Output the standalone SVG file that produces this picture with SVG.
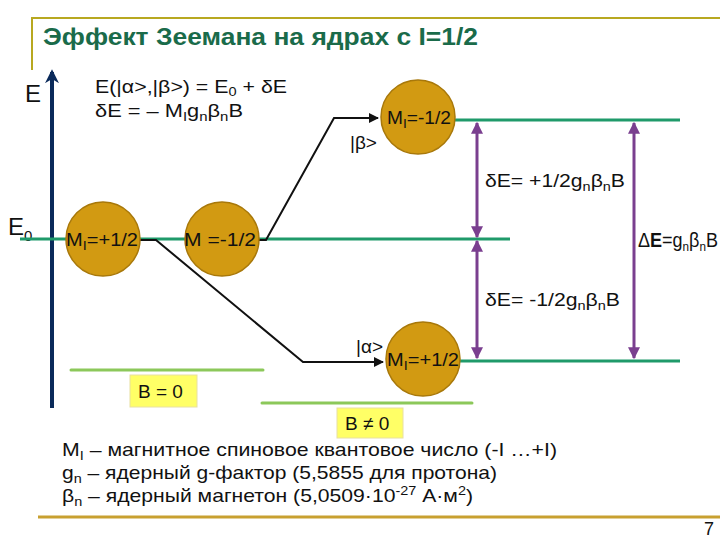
<svg xmlns="http://www.w3.org/2000/svg" width="720" height="540" viewBox="0 0 720 540">
<defs>
<style>
text{font-family:"Liberation Sans",Arial,sans-serif;fill:#111}
.t{font-size:19px}
.c{font-size:18px}
.s{font-size:13px}
.circ{fill:#d29a12;stroke:#a8780a;stroke-width:1.5}
.lvl{stroke:#1f9a6a;stroke-width:3}
.pur{stroke:#7a3f8f;stroke-width:3;fill:none}
.blk{stroke:#111;stroke-width:2;fill:none}
.bl{stroke:#8cc85a;stroke-width:3;stroke-linecap:round}
.yb{fill:#ffff66;stroke:#e8e0a0;stroke-width:1}
</style>
<marker id="ab" viewBox="0 0 10 10" refX="9" refY="5" markerWidth="5" markerHeight="5" orient="auto-start-reverse"><path d="M0,0L10,5L0,10z" fill="#111"/></marker>
<marker id="ap" viewBox="0 0 10 10" refX="9" refY="5" markerWidth="4" markerHeight="4" orient="auto-start-reverse"><path d="M0,0L10,5L0,10z" fill="#7a3f8f"/></marker>
<marker id="an" viewBox="0 0 10 10" refX="8" refY="5" markerWidth="3.5" markerHeight="3.5" orient="auto"><path d="M0,0L10,5L0,10L3,5z" fill="#0a2a5a"/></marker>
</defs>
<rect width="720" height="540" fill="#fff"/>
<g id="frame">
<path d="M32,70V18H720" fill="none" stroke="#b8a820" stroke-width="2"/>
<path d="M38,517H720" stroke="#c8a030" stroke-width="3"/>
<text x="43" y="45" textLength="435" lengthAdjust="spacingAndGlyphs" style="font-size:23px;font-weight:bold;fill:#1a6b4a">Эффект Зеемана на ядрах с I=1/2</text>
</g>
<g id="axis">
<line x1="52" y1="408" x2="52" y2="72" stroke="#0a2a5a" stroke-width="4" marker-end="url(#an)"/>
<text x="25" y="102" style="font-size:24px">E</text>
<text x="8" y="235" style="font-size:24px">E<tspan dy="6" style="font-size:15px">0</tspan></text>
</g>
<g id="formula">
<text class="t" x="95" y="93" textLength="192" lengthAdjust="spacingAndGlyphs">E(|α&gt;,|β&gt;) = E<tspan dy="3" class="s">0</tspan><tspan dy="-3"> + δE</tspan></text>
<text class="t" x="95" y="117" textLength="148" lengthAdjust="spacingAndGlyphs">δE = – M<tspan dy="4" class="s">I</tspan><tspan dy="-4">g</tspan><tspan dy="4" class="s">n</tspan><tspan dy="-4">β</tspan><tspan dy="4" class="s">n</tspan><tspan dy="-4">B</tspan></text>
</g>
<g id="levels">
<line class="lvl" x1="20" y1="239" x2="510" y2="239"/>
<line class="lvl" x1="455" y1="120" x2="680" y2="120"/>
<line class="lvl" x1="455" y1="361" x2="680" y2="361"/>
</g>
<g id="connectors">
<path class="blk" d="M140,240H156L303,362H383" marker-end="url(#ab)"/>
<path class="blk" d="M258,240H266L334,118H378" marker-end="url(#ab)"/>
<line class="pur" x1="477" y1="237" x2="477" y2="123" marker-start="url(#ap)" marker-end="url(#ap)"/>
<line class="pur" x1="477" y1="241" x2="477" y2="358" marker-start="url(#ap)" marker-end="url(#ap)"/>
<line class="pur" x1="634" y1="123" x2="634" y2="358" marker-start="url(#ap)" marker-end="url(#ap)"/>
<line class="bl" x1="71" y1="370" x2="263" y2="370"/>
<line class="bl" x1="262" y1="403" x2="472" y2="403"/>
</g>
<g id="n1"><circle class="circ" cx="103" cy="239" r="37"/><text class="c" x="66" y="246" textLength="72" lengthAdjust="spacingAndGlyphs">M<tspan dy="4" class="s">I</tspan><tspan dy="-4">=+1/2</tspan></text></g>
<g id="n2"><circle class="circ" cx="222" cy="239" r="37"/><text class="c" x="184" y="246" textLength="72" lengthAdjust="spacingAndGlyphs">M =-1/2</text></g>
<g id="n3"><circle class="circ" cx="418" cy="117" r="37"/><text class="c" x="387" y="124" textLength="64" lengthAdjust="spacingAndGlyphs">M<tspan dy="4" class="s">I</tspan><tspan dy="-4">=-1/2</tspan></text></g>
<g id="n4"><circle class="circ" cx="423" cy="359" r="37"/><text class="c" x="387" y="366" textLength="72" lengthAdjust="spacingAndGlyphs">M<tspan dy="4" class="s">I</tspan><tspan dy="-4">=+1/2</tspan></text></g>
<g id="labels">
<text class="t" x="350" y="149">|β&gt;</text>
<text class="t" x="356" y="353">|α&gt;</text>
<text class="t" x="485" y="187" textLength="140" lengthAdjust="spacingAndGlyphs">δE= +1/2g<tspan dy="4" class="s">n</tspan><tspan dy="-4">β</tspan><tspan dy="4" class="s">n</tspan><tspan dy="-4">B</tspan></text>
<text class="t" x="485" y="306" textLength="135" lengthAdjust="spacingAndGlyphs">δE= -1/2g<tspan dy="4" class="s">n</tspan><tspan dy="-4">β</tspan><tspan dy="4" class="s">n</tspan><tspan dy="-4">B</tspan></text>
<text x="638" y="247" textLength="80" lengthAdjust="spacingAndGlyphs" style="font-size:20px">Δ<tspan style="font-weight:bold">E</tspan>=g<tspan dy="4" class="s">n</tspan><tspan dy="-4">β</tspan><tspan dy="4" class="s">n</tspan><tspan dy="-4">B</tspan></text>
</g>
<g id="b0"><rect class="yb" x="130" y="375" width="67" height="32"/><text class="t" x="138" y="398">B = 0</text></g>
<g id="b1"><rect class="yb" x="337" y="408" width="66" height="30"/><text class="t" x="345" y="430">B ≠ 0</text></g>
<g id="legend">
<text class="t" x="62" y="456" textLength="495" lengthAdjust="spacingAndGlyphs">M<tspan dy="4" class="s">I</tspan><tspan dy="-4"> – магнитное спиновое квантовое число (-I …+I)</tspan></text>
<text class="t" x="62" y="479" textLength="435" lengthAdjust="spacingAndGlyphs">g<tspan dy="4" class="s">n</tspan><tspan dy="-4"> – ядерный g-фактор (5,5855 для протона)</tspan></text>
<text class="t" x="62" y="502" textLength="411" lengthAdjust="spacingAndGlyphs">β<tspan dy="4" class="s">n</tspan><tspan dy="-4"> – ядерный магнетон (5,0509·10</tspan><tspan dy="-7" class="s">-27</tspan><tspan dy="7"> А·м</tspan><tspan dy="-7" class="s">2</tspan><tspan dy="7">)</tspan></text>
<text x="704" y="535" style="font-size:18px">7</text>
</g>
</svg>
